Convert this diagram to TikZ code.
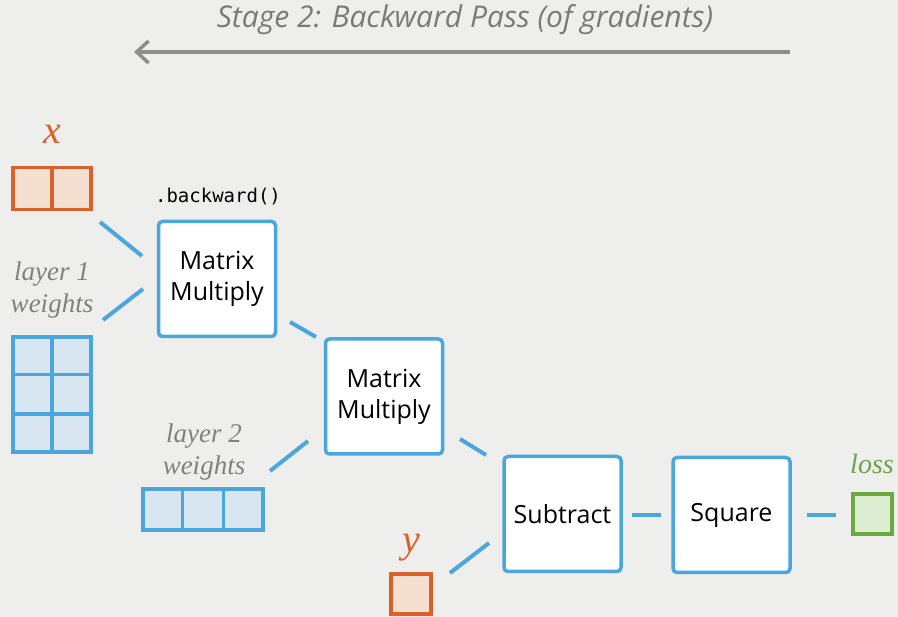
\documentclass[tikz,border=0pt]{standalone}
\usepackage{fontspec}
\setmainfont{Open Sans}
\newfontfamily\labfont{Liberation Serif}
\newfontfamily\codefont{DejaVu Sans Mono}
\usetikzlibrary{arrows.meta,calc}
\definecolor{bg}{HTML}{EEEEEC}
\definecolor{opblue}{HTML}{4CA6DE}
\definecolor{wfill}{HTML}{D8E6F2}
\definecolor{xorange}{HTML}{D9622B}
\definecolor{xfill}{HTML}{F5DFD0}
\definecolor{lgreen}{HTML}{6AAA3F}
\definecolor{gfill}{HTML}{DDEED3}
\definecolor{titlegray}{HTML}{7A7A7A}
\definecolor{labgray}{HTML}{808080}
\tikzset{
  opbox/.style={draw=opblue, line width=3.5pt, fill=white, rounded corners=4pt,
    minimum width=117pt, minimum height=115pt, inner sep=0pt, align=center,
    font=\fontsize{25}{31}\selectfont},
  conn/.style={draw=opblue, line width=4pt, line cap=butt},
  bluegrid/.style={draw=opblue, line width=3.5pt, fill=wfill, inner sep=0pt},
  orgrid/.style={draw=xorange, line width=3.5pt, fill=xfill, inner sep=0pt},
  grgrid/.style={draw=lgreen, line width=3.5pt, fill=gfill, inner sep=0pt},
  cellline/.style={line width=3.5pt},
  lab/.style={font=\labfont\itshape\fontsize{27}{32}\selectfont, text=labgray, align=center},
  varlab/.style={font=\labfont\itshape\fontsize{40}{42}\selectfont, text=xorange},
}
\begin{document}
\begin{tikzpicture}[x=1pt,y=-1pt]
\fill[bg] (0,0) rectangle (898,617);
\useasboundingbox (0,0) rectangle (898,617);

% title and arrow
\node[font=\itshape\fontsize{30}{34}\selectfont, text=titlegray] (title) at (465,20) {Stage 2: Backward Pass (of gradients)};
\coordinate (arrS) at (790,52);
\coordinate (arrE) at (134,52);
\draw[draw=titlegray!85, line width=3.5pt, -{Straight Barb[length=12pt,width=22pt,line width=3.5pt]}] (arrS) -- (arrE);

% x
\node[varlab] (xlab) at (52,134) {x};
\node[orgrid, minimum width=78pt, minimum height=42pt] (xbox) at (52,188.5) {};
\draw[cellline, xorange] (xbox.north) -- (xbox.south);

% layer 1 weights
\node[lab] (l1lab) at (52,290) {layer 1\\weights};
\node[bluegrid, minimum width=78pt, minimum height=115pt] (w1) at (52,394.5) {};
\draw[cellline, opblue] (w1.north) -- (w1.south);
\draw[cellline, opblue] ($(w1.north west)!1/3!(w1.south west)$) -- ($(w1.north east)!1/3!(w1.south east)$);
\draw[cellline, opblue] ($(w1.north west)!2/3!(w1.south west)$) -- ($(w1.north east)!2/3!(w1.south east)$);

% ops
\node[font=\codefont\fontsize{19}{21}\selectfont] (bw) at (218,197) {.backward()};
\node[opbox] (mm1) at (217,279) {Matrix\\Multiply};
\node[opbox] (mm2) at (384,396.5) {Matrix\\Multiply};
\node[opbox] (sub) at (562.5,514) {Subtract};
\node[opbox] (sq) at (731.5,515) {Square};

% layer 2 weights
\node[lab] (l2lab) at (204,452) {layer 2\\weights};
\node[bluegrid, minimum width=120pt, minimum height=41pt] (w2) at (203,509.5) {};
\draw[cellline, opblue] ($(w2.north west)!1/3!(w2.north east)$) -- ($(w2.south west)!1/3!(w2.south east)$);
\draw[cellline, opblue] ($(w2.north west)!2/3!(w2.north east)$) -- ($(w2.south west)!2/3!(w2.south east)$);

% y
\node[varlab] (ylab) at (411,548) {y};
\node[orgrid, minimum width=40pt, minimum height=40pt] (ybox) at (411,594) {};

% loss
\node[font=\labfont\itshape\fontsize{28}{30}\selectfont, text=lgreen!85!gray] (losslab) at (872,464) {loss};
\node[grgrid, minimum width=39pt, minimum height=40pt] (lossbox) at (872.5,514) {};

% connector end points
\coordinate (c1a) at (100,222); \coordinate (c1b) at (142,256);
\coordinate (c2a) at (103,320); \coordinate (c2b) at (143,289);
\coordinate (c3a) at (290,322); \coordinate (c3b) at (316,337);
\coordinate (c4a) at (270,471); \coordinate (c4b) at (308,441);
\coordinate (c5a) at (460,439); \coordinate (c5b) at (486,455);
\coordinate (c6a) at (450,573); \coordinate (c6b) at (489,543);
\coordinate (c7a) at (632,515); \coordinate (c7b) at (661,515);
\coordinate (c8a) at (807,515); \coordinate (c8b) at (836,515);
\foreach \a/\b in {c1a/c1b,c2a/c2b,c3a/c3b,c4a/c4b,c5a/c5b,c6a/c6b,c7a/c7b,c8a/c8b}
  \draw[conn] (\a) -- (\b);
\end{tikzpicture}
\end{document}
